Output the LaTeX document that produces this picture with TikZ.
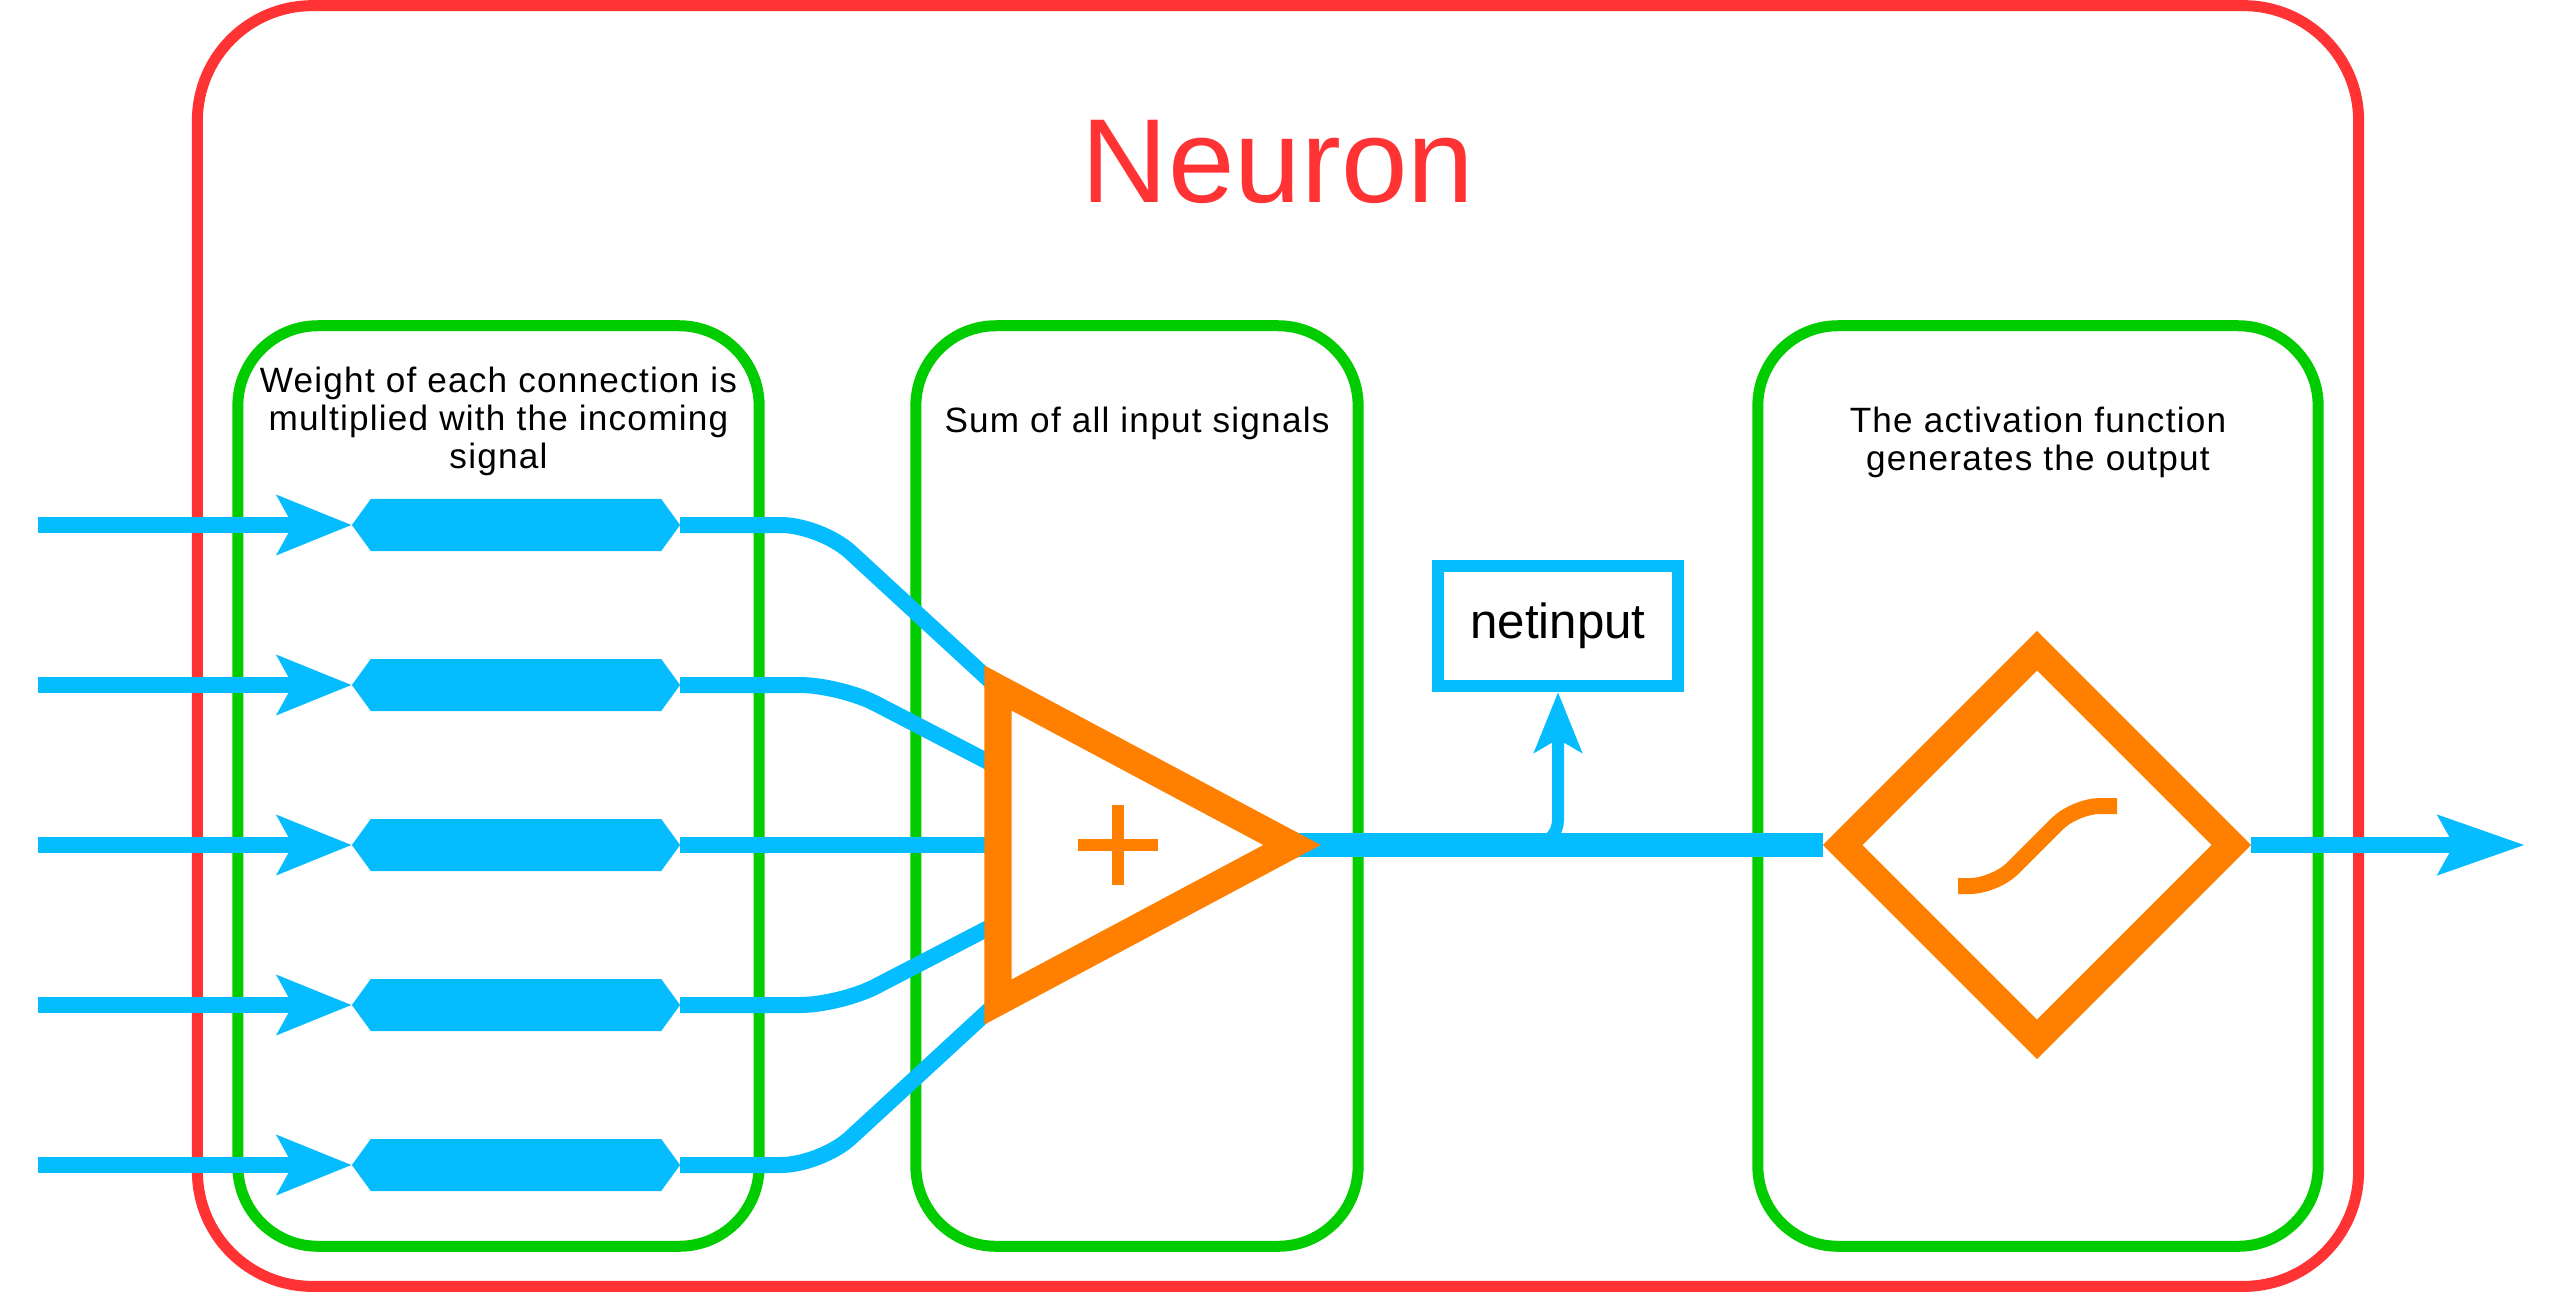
\documentclass[tikz,border=0pt]{standalone}
\usepackage{fontspec}
\setmainfont{Liberation Sans}
\usetikzlibrary{arrows.meta,shapes.geometric,shapes.symbols,backgrounds}
\definecolor{neured}{RGB}{255,51,51}
\definecolor{neugreen}{RGB}{0,204,0}
\definecolor{neublue}{RGB}{5,188,255}
\definecolor{neuorange}{RGB}{255,128,0}
\tikzset{
  neuframe/.style={draw=neured,line width=0.11cm,rounded corners=1.15cm,
                   minimum width=21.6cm,minimum height=12.8cm},
  neustage/.style={draw=neugreen,line width=0.11cm,rounded corners=0.8cm,
                   minimum height=9.2cm},
  neucaption/.style={font=\fontsize{10}{10.8}\selectfont\addfontfeature{LetterSpace=3.5},
                     align=center,inner sep=0pt},
  neuweight/.style={shape=signal,signal to=east and west,signal pointer angle=108,
                    fill=neublue,inner sep=0pt,outer sep=0pt,
                    minimum width=3.28cm,minimum height=0.52cm},
  neuin/.style={-{Stealth[length=0.74cm,width=0.58cm,inset=0.15cm]},line width=0.16cm,neublue},
  neuout/.style={-{Stealth[length=0.86cm,width=0.58cm,inset=0.15cm]},line width=0.16cm,neublue},
  neuline/.style={line width=0.16cm,neublue,rounded corners=0.4cm},
  neumain/.style={line width=0.24cm,neublue},
  neutap/.style={-{Stealth[length=0.6cm,width=0.47cm,inset=0.13cm]},line width=0.12cm,
                 neublue,rounded corners=0.25cm},
  neunet/.style={draw=neublue,line width=0.12cm,fill=white,minimum width=2.4cm,
                 minimum height=1.2cm,font=\fontsize{14}{16}\selectfont},
  neusum/.style={draw=neuorange,line width=0.27cm,fill=white},
  neuplus/.style={neuorange,line width=0.125cm},
  neuact/.style={shape=diamond,draw=neuorange,line width=0.28cm,fill=white,inner sep=0pt,
                 minimum width=4cm,minimum height=4cm},
  neucurve/.style={neuorange,line width=0.16cm,rounded corners=0.25cm}
}

\begin{document}
\begin{tikzpicture}[x=0.01cm,y=-0.01cm]
  \useasboundingbox (0,0) rectangle (2556,1296);

  \begin{scope}[on background layer]
    \node[neuframe] (neuron) at (1278,646) {};
    \node[neustage,minimum width=5.21cm] (wbox) at (498.5,786) {};
    \node[neustage,minimum width=4.42cm] (sbox) at (1137,786) {};
    \node[neustage,minimum width=5.6cm] (abox) at (2038,786) {};
  \end{scope}

  \node[neured,font=\fontsize{34}{40}\selectfont,anchor=base] (title) at (1278,202) {Neuron};
  \node[neucaption,anchor=north] (wtext) at (498.5,366)
    {Weight of each connection is\\multiplied with the incoming\\signal};
  \node[neucaption,anchor=base] (stext) at (1137,432) {Sum of all input signals};
  \node[neucaption,anchor=north] (atext) at (2038,406)
    {The activation function\\generates the output};

  % inputs and weights
  \coordinate (in1) at (38,525);
  \coordinate (in2) at (38,685);
  \coordinate (in3) at (38,845);
  \coordinate (in4) at (38,1005);
  \coordinate (in5) at (38,1165);
  \node[neuweight] (w1) at (516,525) {};
  \node[neuweight] (w2) at (516,685) {};
  \node[neuweight] (w3) at (516,845) {};
  \node[neuweight] (w4) at (516,1005) {};
  \node[neuweight] (w5) at (516,1165) {};

  % summation
  \coordinate (tA) at (998,688);
  \coordinate (tB) at (998,1002);
  \coordinate (tC) at (1292,845);
  \coordinate (s2) at (998,767);
  \coordinate (s3) at (998,845);
  \coordinate (s4) at (998,923);
  \draw[neusum] (tA) -- (tC) -- (tB) -- cycle;
  \draw[neuplus] (1078,845) -- (1158,845) (1118,805) -- (1118,885);

  % activation
  \node[neuact] (act) at (2037,845) {};
  \draw[neucurve] (1958,886) -- (1995,886) -- (2075,806) -- (2117,806);

  \node[neunet] (net) at (1558,626) {netinput};
  \coordinate (tap) at (1515,845);
  \coordinate (out) at (2525,845);

  \begin{scope}[on background layer]
    \draw[neuin] (in1) -- (w1.west);
    \draw[neuin] (in2) -- (w2.west);
    \draw[neuin] (in3) -- (w3.west);
    \draw[neuin] (in4) -- (w4.west);
    \draw[neuin] (in5) -- (w5.west);
    \draw[neuline] (w1) -- (821,525) -- (tA);
    \draw[neuline] (w2) -- (840,685) -- (s2);
    \draw[neuline] (w3) -- (s3);
    \draw[neuline] (w4) -- (840,1005) -- (s4);
    \draw[neuline] (w5) -- (821,1165) -- (tB);
    \draw[neumain] (tC) -- (act);
    \draw[neutap] (tap) -| (net.south);
    \draw[neuout] (act) -- (out);
  \end{scope}
\end{tikzpicture}
\end{document}
